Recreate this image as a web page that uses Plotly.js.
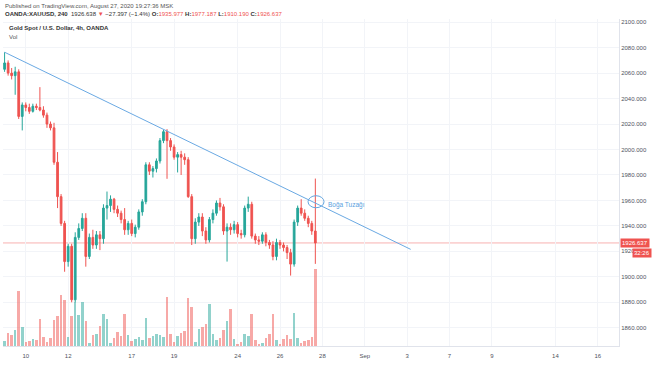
<!DOCTYPE html>
<html>
<head>
<meta charset="utf-8">
<script src="https://cdn.plot.ly/plotly-3.0.1.min.js"></script>
<style>
html,body{margin:0;padding:0;background:#fff;}
#chart{width:654px;height:366px;}
</style>
</head>
<body>
<div id="chart"></div>
<script>
// ---- DATA (4h candles, OANDA:XAUUSD, Aug 7 – Aug 27 2020) ----
const opens = [2063,2068,2060,2058,2061,2026,2035,2033,2030,2034,
  2033,2031,2027,2020,2017,1990,1963,1942,1912,1924,
  1882,1931,1938,1946,1916,1931,1925,1933,1930,1954,
  1956,1961,1953,1950,1945,1937,1942,1934,1939,1951,
  1959,1988,1983,1985,1991,2007,2014,2007,2002,1994,
  1996,1994,1992,1963,1930,1943,1947,1936,1929,1945,
  1950,1958,1955,1936,1939,1937,1941,1934,1933,1954,
  1957,1932,1929,1928,1933,1927,1925,1916,1927,1925,
  1923,1919,1910,1943,1954,1950,1946,1942,1935.977];
const highs = [2076.4,2070,2064,2065,2063,2037,2037,2036,2036,2036,
  2049,2034,2029,2022,2021,1998,1965,1944,1926,1926,
  1935,1942,1950,1950,1934,1937,1936,1936,1957,1967,
  1964,1962,1956,1952,1954,1944,1945,1941,1953,1961,
  1990,1990,1987,1993,2009,2015.5,2016,2009,2004,1998,
  1999,1997,1994,1965,1946,1950,1950,1939,1947,1953,
  1960,1962,1957,1942,1942,1944,1943,1937,1956,1963,
  1959,1934,1932,1935,1935,1929,1928,1930,1929,1927,
  1925,1922,1945,1956,1961,1953,1948,1944,1977.187];
const lows = [2061,2058,2055,2043,2024,2015,2030,2028,2029,2031,
  2030,2025,2017,2015,1988,1954,1940,1904,1908,1880,
  1880,1929,1936,1908,1914,1922,1922,1921,1926,1945,
  1951,1950,1947,1942,1933,1933,1932,1931,1937,1948,
  1957,1980,1978,1982,1989,2005,1977,1999,1992,1982,
  1980,1988,1962,1925,1926,1940,1932,1926,1927,1942,
  1948,1952,1933,1912,1933,1934,1931,1930,1931,1951,
  1930,1926,1925,1926,1924,1922,1913,1913,1922,1920,
  1914,1901,1908,1940,1948,1944,1939,1933,1910.19];
const closes = [2068,2060,2058,2061,2026,2035,2033,2030,2034,2033,
  2031,2027,2020,2017,1990,1963,1942,1912,1924,1882,
  1931,1938,1946,1916,1931,1925,1933,1930,1954,1956,
  1961,1953,1950,1945,1937,1942,1934,1939,1951,1959,
  1988,1983,1985,1991,2007,2014,2007,2002,1994,1996,
  1994,1992,1963,1930,1943,1947,1936,1929,1945,1950,
  1958,1955,1936,1939,1937,1941,1934,1933,1954,1957,
  1932,1929,1928,1933,1927,1925,1916,1927,1925,1923,
  1919,1910,1943,1954,1950,1946,1942,1936,1926.637];
// volume (thousand ticks)
const volumes = [5,13,11,16,55,19,4,5,7,6,
  27,9,4,8,26,30,51,46,9,30,
  44,31,44,25,3,11,12,20,32,27,
  3,8,14,10,32,11,5,7,9,6,
  28,8,10,12,11,9,49,12,4,10,
  13,15,48,39,4,17,19,22,42,12,
  6,8,16,25,37,7,2,4,12,10,
  32,6,2,3,8,12,32,6,2,7,
  11,7,33,8,3,5,6,9,77];
const firstDay = '2020-08-07';
const barsPerDay = 6;
const tickDays = ['2020-08-10','2020-08-12','2020-08-17','2020-08-19','2020-08-24','2020-08-26','2020-08-28','2020-09-01','2020-09-03','2020-09-07','2020-09-09','2020-09-14','2020-09-16'];
const tickLabels = ['10','12','17','19','24','26','28','Sep','3','7','9','14','16'];
const lastPrice = 1926.637;
const trendX = [0, 115];
const trendY = [2076.4, 1921.6];
const trapIdx = 88.2, trapPrice = 1959;
const trapText = 'Boğa Tuzağı';

// ---- build ----
function tradingIndex(dayStr){
  const d0 = new Date(firstDay+'T00:00:00Z'), d1 = new Date(dayStr+'T00:00:00Z');
  let n = 0;
  for(let d = new Date(d0); d < d1; d.setUTCDate(d.getUTCDate()+1)){
    const w = d.getUTCDay(); if(w!==0 && w!==6) n++;
  }
  return n*barsPerDay;
}
const tickVals = tickDays.map(tradingIndex);
const idx = closes.map((_,i)=>i);
const RED='#ef5350', GREEN='#26a69a';
const volColors = closes.map((c,i)=> c>=opens[i] ? 'rgba(38,166,154,0.5)' : 'rgba(239,83,80,0.5)');
const maxVol = Math.max(...volumes);
const font = 'Liberation Sans, Arial, sans-serif';

const traces = [
  {type:'bar', x:idx, y:volumes, yaxis:'y2', marker:{color:volColors, line:{width:0}}, width:0.72, hoverinfo:'skip'},
  {type:'candlestick', x:idx, open:opens, high:highs, low:lows, close:closes,
   increasing:{line:{color:GREEN,width:1}, fillcolor:GREEN},
   decreasing:{line:{color:RED,width:1}, fillcolor:RED}, whiskerwidth:0, hoverinfo:'skip'},
  {type:'scatter', mode:'lines', x:trendX, y:trendY, line:{color:'#6aa9e3', width:1}, hoverinfo:'skip'}
];

const layout = {
  width:654, height:366,
  margin:{l:3, r:35, t:19, b:20},
  paper_bgcolor:'#fff', plot_bgcolor:'#fff',
  showlegend:false,
  font:{family:font, size:6, color:'#50535e'},
  bargap:0,
  xaxis:{range:[-0.45,174.0], tickvals:tickVals, ticktext:tickLabels,
    showgrid:true, gridcolor:'#f2f4f8', gridwidth:1, zeroline:false,
    showline:true, linecolor:'#e0e3eb', linewidth:1, ticks:'', rangeslider:{visible:false},
    ticklabelstandoff:4,
    tickfont:{size:6, color:'#50535e'}, fixedrange:true},
  yaxis:{side:'right', range:[1845.7,2102.5], tick0:0, dtick:20, tickformat:'.3f',
    showgrid:true, gridcolor:'#f2f4f8', zeroline:false,
    showline:true, linecolor:'#e0e3eb', linewidth:1, ticks:'',
    tickfont:{size:6, color:'#50535e'}, fixedrange:true},
  yaxis2:{overlaying:'y', range:[0, maxVol/0.2355], visible:false, fixedrange:true},
  shapes:[
    {type:'line', xref:'paper', x0:0, x1:1, yref:'y', y0:lastPrice, y1:lastPrice,
     line:{color:'rgba(239,83,80,0.45)', width:1}, layer:'below'},
    {type:'circle', xref:'x', yref:'y', xsizemode:'pixel', ysizemode:'pixel',
     xanchor:trapIdx, yanchor:trapPrice, x0:-8, x1:8, y0:-6, y1:6,
     line:{color:'#64a6e0', width:1}}
  ],
  annotations:[
    {xref:'paper', yref:'paper', x:0, y:1, xanchor:'left', yanchor:'middle', xshift:0, yshift:13.5,
     showarrow:false, text:'Published on TradingView.com, August 27, 2020 19:27:36 MSK',
     font:{family:font, size:6, color:'#555'}},
    {xref:'paper', yref:'paper', x:0, y:1, xanchor:'left', yanchor:'middle', xshift:0, yshift:5,
     showarrow:false,
     text:'<b>OANDA:XAUUSD, 240</b>  1926.638 <span style="color:#ef5350">▼</span> −27.397 (−1.4%) <b>O:</b><span style="color:#ef5350">1935.977</span> <b>H:</b><span style="color:#ef5350">1977.187</span> <b>L:</b><span style="color:#ef5350">1910.190</span> <b>C:</b><span style="color:#ef5350">1926.637</span>',
     font:{family:font, size:6, color:'#333'}},
    {xref:'paper', yref:'paper', x:0, y:1, xanchor:'left', yanchor:'middle', xshift:4, yshift:-8.7,
     showarrow:false, text:'<b>Gold Spot / U.S. Dollar, 4h, OANDA</b>',
     font:{family:font, size:6, color:'#333'}},
    {xref:'paper', yref:'paper', x:0, y:1, xanchor:'left', yanchor:'middle', xshift:4, yshift:-17.5,
     showarrow:false, text:'Vol', font:{family:font, size:6, color:'#555'}},
    {xref:'paper', yref:'y', x:1, y:lastPrice, xanchor:'left', yanchor:'middle', xshift:1,
     showarrow:false, text:'1926.637', bgcolor:'#ef5350', borderpad:1,
     font:{family:font, size:6, color:'#fff'}},
    {xref:'paper', yref:'y', x:1, y:lastPrice, xanchor:'left', yanchor:'middle', xshift:13, yshift:-10,
     showarrow:false, text:'32:26', bgcolor:'#ef5350', borderpad:1,
     font:{family:font, size:6, color:'#fff'}},
    {xref:'x', yref:'y', x:trapIdx, y:trapPrice, xanchor:'left', yanchor:'middle', xshift:10, yshift:-3,
     showarrow:false, text:trapText, font:{family:font, size:6.5, color:'#5a9fe0'}}
  ]
};
Plotly.newPlot('chart', traces, layout, {staticPlot:true, displayModeBar:false});
</script>
</body>
</html>
